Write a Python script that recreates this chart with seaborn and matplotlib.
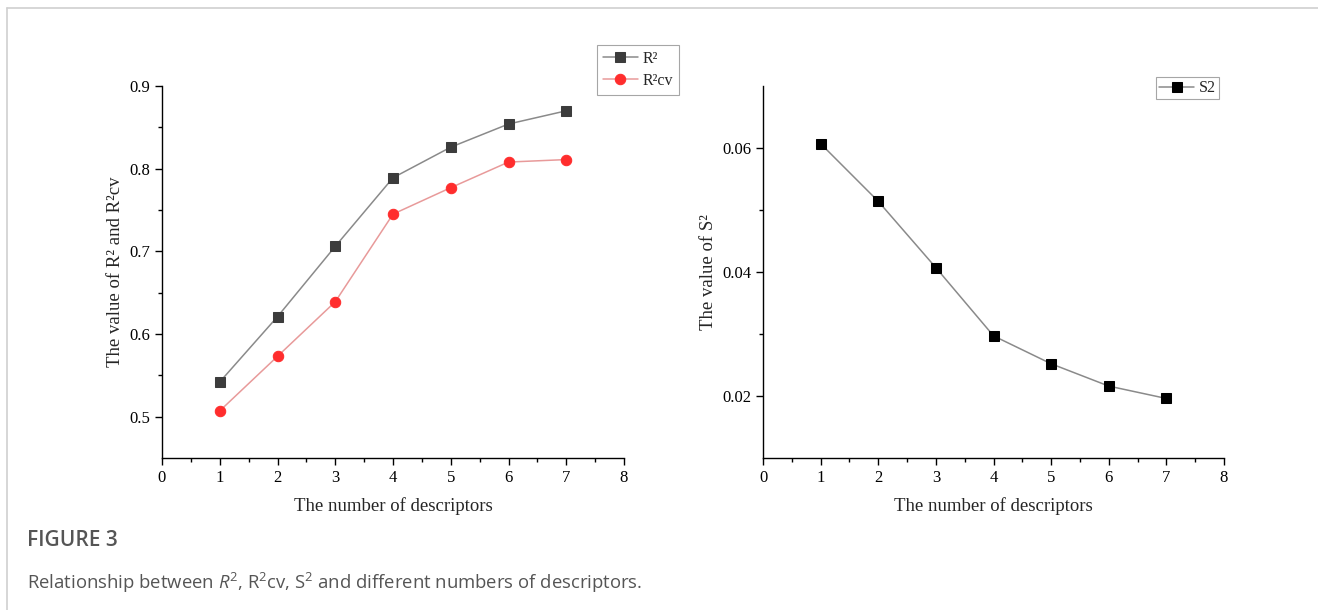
import matplotlib
matplotlib.use("Agg")
import matplotlib.pyplot as plt
from matplotlib.lines import Line2D
from matplotlib.ticker import MultipleLocator, FixedLocator
import seaborn as sns

# values
n_desc = [1, 2, 3, 4, 5, 6, 7]
r2 = [0.542, 0.621, 0.706, 0.789, 0.826, 0.854, 0.870]
r2cv = [0.507, 0.573, 0.639, 0.745, 0.777, 0.808, 0.811]
s2 = [0.0607, 0.0514, 0.0407, 0.0297, 0.0252, 0.0216, 0.0196]

sns.set_style("ticks")
plt.rcParams['font.family'] = ['Liberation Serif', 'DejaVu Serif']
plt.rcParams['mathtext.fontset'] = 'custom'
plt.rcParams['mathtext.rm'] = 'Open Sans'
plt.rcParams['mathtext.it'] = 'Open Sans:italic'

fig = plt.figure(figsize=(13.18, 6.10), dpi=100)

# card border
fig.add_artist(Line2D([7 / 1318, 1], [1 - 8 / 610, 1 - 8 / 610], color='#d0d0d0', lw=1.2))
fig.add_artist(Line2D([7 / 1318, 7 / 1318], [0, 1 - 8 / 610], color='#d0d0d0', lw=1.2))

ax1 = fig.add_axes([162 / 1318, 1 - 458 / 610, 462 / 1318, 372 / 610])
ax2 = fig.add_axes([763 / 1318, 1 - 458 / 610, 461 / 1318, 372 / 610])

sns.lineplot(x=n_desc, y=r2, ax=ax1, color='#8a8a8a', lw=1.1, marker='s', markersize=6.5,
             markerfacecolor='#3c3c3c', markeredgecolor='#3c3c3c', label='R²')
sns.lineplot(x=n_desc, y=r2cv, ax=ax1, color='#e89a9a', lw=1.1, marker='o', markersize=7.5,
             markerfacecolor='#ff2d2d', markeredgecolor='#ff2d2d', label='R²cv')
sns.lineplot(x=n_desc, y=s2, ax=ax2, color='#8a8a8a', lw=1.1, marker='s', markersize=6.5,
             markerfacecolor='black', markeredgecolor='black', label='S2')

ax1.set_ylim(0.45, 0.9)
ax1.yaxis.set_major_locator(FixedLocator([0.5, 0.6, 0.7, 0.8, 0.9]))
ax1.yaxis.set_minor_locator(FixedLocator([0.55, 0.65, 0.75, 0.85]))
ax1.set_ylabel('The value of R² and R²cv', fontsize=13.5)

ax2.set_ylim(0.01, 0.07)
ax2.yaxis.set_major_locator(FixedLocator([0.02, 0.04, 0.06]))
ax2.yaxis.set_minor_locator(FixedLocator([0.03, 0.05]))
ax2.set_ylabel('The value of S²', fontsize=13.5)

for ax in (ax1, ax2):
    ax.set_xlim(0, 8)
    ax.xaxis.set_major_locator(MultipleLocator(1))
    ax.xaxis.set_minor_locator(MultipleLocator(0.5))
    ax.set_xlabel('The number of descriptors', fontsize=13.5, labelpad=8)
    sns.despine(ax=ax)
    for s in ('left', 'bottom'):
        ax.spines[s].set_color('black')
        ax.spines[s].set_linewidth(1.0)
    ax.tick_params(which='major', direction='out', length=5, width=1, colors='black', labelsize=12)
    ax.tick_params(which='minor', direction='out', length=3, width=1, colors='black')
    ax.tick_params(axis='x', pad=4)

leg1 = ax1.legend(loc='upper left', bbox_to_anchor=(435 / 462, 1 + 41 / 372), frameon=True,
                  fancybox=False, edgecolor='#909090', fontsize=11.5, handlelength=2.2,
                  handletextpad=0.3, borderpad=0.35, labelspacing=0.4, borderaxespad=0)
leg1.get_frame().set_linewidth(0.8)
leg2 = ax2.legend(loc='upper left', bbox_to_anchor=(393 / 461, 1 + 9 / 372), frameon=True,
                  fancybox=False, edgecolor='#909090', fontsize=11.5, handlelength=2.2,
                  handletextpad=0.3, borderpad=0.2, borderaxespad=0)
leg2.get_frame().set_linewidth(0.8)

fig.text(27 / 1318, 1 - 541 / 610, 'FIGURE 3', family='Open Sans', fontsize=15,
         fontweight='semibold', color='#555555', va='center', ha='left')
fig.text(27 / 1318, 1 - 583 / 610,
         r'Relationship between $R^2$, R$^2$cv, S$^2$ and different numbers of descriptors.',
         family='Open Sans', fontsize=13.3, color='#555555', va='center', ha='left')

fig.savefig('out.png', dpi=100)
